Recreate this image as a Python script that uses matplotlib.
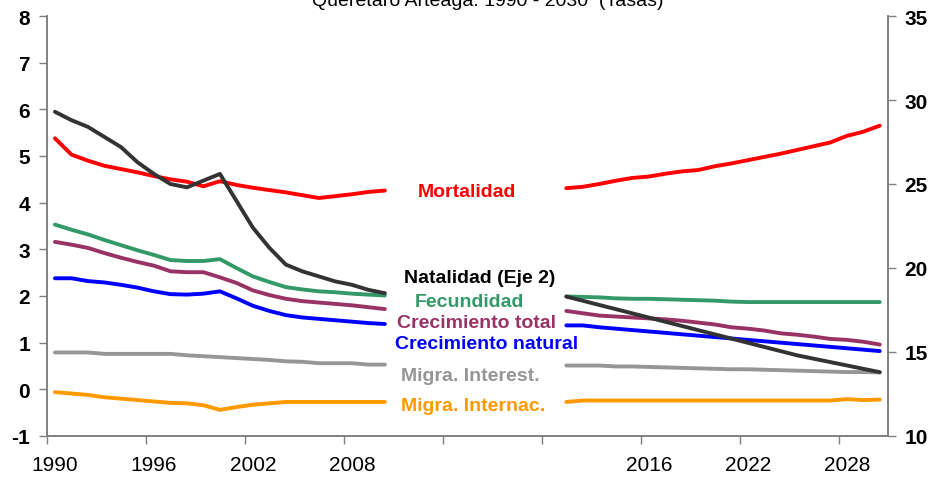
import numpy as np
import matplotlib
matplotlib.use("Agg")
import matplotlib.pyplot as plt

plt.rcParams['font.family'] = ['Liberation Sans', 'DejaVu Sans']

# ---------------- data ----------------
title = "Querétaro Arteaga: 1990 - 2030  (Tasas)"
hist_years = list(range(1990, 2011))
proj_years = list(range(2011, 2031))
n_blank = 10  # empty categories between the two periods (room for labels)

mort_hist = [5.38, 5.03, 4.90, 4.79, 4.72, 4.65, 4.57, 4.50, 4.45, 4.35, 4.46,
             4.38, 4.32, 4.27, 4.22, 4.16, 4.10, 4.14, 4.18, 4.23, 4.26]
mort_proj = [4.31, 4.34, 4.40, 4.47, 4.53, 4.56, 4.62, 4.67, 4.70, 4.78,
             4.84, 4.91, 4.98, 5.05, 5.13, 5.21, 5.29, 5.43, 5.52, 5.65]

nat_hist = [29.3, 28.8, 28.4, 27.8, 27.2, 26.3, 25.6, 25.0, 24.8, 25.2, 25.6,
            24.0, 22.4, 21.2, 20.2, 19.8, 19.5, 19.2, 19.0, 18.7, 18.5]
nat_proj = [18.3, 18.05, 17.8, 17.55, 17.3, 17.05, 16.8, 16.55, 16.3, 16.05,
            15.8, 15.55, 15.3, 15.05, 14.8, 14.6, 14.4, 14.2, 14.0, 13.8]

fec_hist = [3.53, 3.42, 3.32, 3.20, 3.09, 2.98, 2.88, 2.77, 2.75, 2.75, 2.79,
            2.60, 2.42, 2.30, 2.19, 2.14, 2.10, 2.08, 2.05, 2.03, 2.01]
fec_proj = [1.99, 1.98, 1.97, 1.95, 1.94, 1.94, 1.93, 1.92, 1.91, 1.90,
            1.88, 1.87, 1.87, 1.87, 1.87, 1.87, 1.87, 1.87, 1.87, 1.87]

ctot_hist = [3.16, 3.10, 3.03, 2.92, 2.82, 2.73, 2.65, 2.53, 2.51, 2.51, 2.40,
             2.28, 2.12, 2.02, 1.94, 1.89, 1.86, 1.83, 1.80, 1.76, 1.72]
ctot_proj = [1.68, 1.63, 1.58, 1.56, 1.54, 1.52, 1.50, 1.47, 1.43, 1.39,
             1.33, 1.30, 1.26, 1.20, 1.17, 1.13, 1.08, 1.06, 1.02, 0.96]

cnat_hist = [2.38, 2.38, 2.32, 2.29, 2.24, 2.18, 2.10, 2.04, 2.03, 2.05, 2.10,
             1.95, 1.79, 1.68, 1.59, 1.54, 1.51, 1.48, 1.45, 1.42, 1.40]
cnat_proj = [1.37, 1.37, 1.33, 1.30, 1.27, 1.24, 1.21, 1.18, 1.15, 1.12,
             1.09, 1.06, 1.03, 1.00, 0.97, 0.94, 0.91, 0.88, 0.85, 0.82]

mint_hist = [0.79, 0.79, 0.79, 0.76, 0.76, 0.76, 0.76, 0.76, 0.73, 0.71, 0.69,
             0.67, 0.65, 0.63, 0.60, 0.59, 0.56, 0.56, 0.56, 0.53, 0.53]
mint_proj = [0.51, 0.51, 0.51, 0.49, 0.49, 0.48, 0.47, 0.46, 0.45, 0.44,
             0.43, 0.43, 0.42, 0.41, 0.40, 0.39, 0.38, 0.37, 0.37, 0.36]

mext_hist = [-0.06, -0.09, -0.12, -0.17, -0.20, -0.23, -0.26, -0.29, -0.30, -0.34, -0.44,
             -0.38, -0.33, -0.30, -0.27, -0.27, -0.27, -0.27, -0.27, -0.27, -0.27]
mext_proj = [-0.27, -0.24, -0.24, -0.24, -0.24, -0.24, -0.24, -0.24, -0.24, -0.24,
             -0.24, -0.24, -0.24, -0.24, -0.24, -0.24, -0.24, -0.21, -0.23, -0.22]

left_ticks = list(range(-1, 9))
right_ticks = [10, 15, 20, 25, 30, 35]

# ---------------- build category axis ----------------
categories = [str(y) for y in hist_years] + [''] * n_blank + [str(y) for y in proj_years]
x = np.arange(len(categories))
blank = [np.nan] * n_blank


def series(h, p):
    return np.array(list(h) + blank + list(p), dtype=float)


fig = plt.figure(figsize=(9.32, 4.81), dpi=100)
ax = fig.add_axes([46.7 / 932, 1 - 437 / 481, (888 - 46.7) / 932, 420 / 481])
ax2 = ax.twinx()

lw = 2.8
ax.plot(x, series(mort_hist, mort_proj), color='#FF0000', lw=lw, solid_capstyle='round')
ax.plot(x, series(fec_hist, fec_proj), color='#339966', lw=lw, solid_capstyle='round')
ax.plot(x, series(ctot_hist, ctot_proj), color='#993366', lw=lw, solid_capstyle='round')
ax.plot(x, series(cnat_hist, cnat_proj), color='#0000FF', lw=lw, solid_capstyle='round')
ax.plot(x, series(mint_hist, mint_proj), color='#969696', lw=lw, solid_capstyle='round')
ax.plot(x, series(mext_hist, mext_proj), color='#FF9900', lw=lw, solid_capstyle='round')
ax2.plot(x, series(nat_hist, nat_proj), color='#333333', lw=lw, solid_capstyle='round')

ax.set_xlim(-0.5, len(categories) - 0.5)
ax.set_ylim(-1, 8)
ax2.set_ylim(10, 35)

# ticks between categories every 6, labels at category centres
lab_idx = np.arange(0, len(categories), 6)
ax.set_xticks(lab_idx - 0.5)
ax.set_xticklabels([])
ax.set_xticks(lab_idx, minor=True)
ax.set_xticklabels([categories[i] for i in lab_idx], minor=True, fontsize=15)
ax.tick_params(axis='x', which='minor', length=0, pad=14)
ax.tick_params(axis='x', which='major', length=6, width=1, color='#808080', direction='out')

ax.set_yticks(left_ticks)
ax.set_yticklabels([str(t) for t in left_ticks], fontsize=15, fontweight='bold')
ax2.set_yticks(right_ticks)
ax2.set_yticklabels([str(t) for t in right_ticks], fontsize=15, fontweight='bold')
ax.tick_params(axis='y', length=6, width=1, color='#808080', direction='out', pad=6)
ax2.tick_params(axis='y', length=6, width=1, color='#808080', direction='out', pad=6)

for a in (ax, ax2):
    a.spines['top'].set_visible(False)
    for s in ('left', 'right', 'bottom'):
        a.spines[s].set_color('#808080')
        a.spines[s].set_linewidth(1.2)

# series labels
labels = [
    ("Mortalidad", '#FF0000', 0.499, 0.582),
    ("Natalidad (Eje 2)", '#000000', 0.515, 0.378),
    ("Fecundidad", '#339966', 0.503, 0.321),
    ("Crecimiento total", '#993366', 0.511, 0.271),
    ("Crecimiento natural", '#0000FF', 0.523, 0.221),
    ("Migra. Interest.", '#969696', 0.503, 0.144),
    ("Migra. Internac.", '#FF9900', 0.507, 0.072),
]
for txt, col, fx, fy in labels:
    ax2.text(fx, fy, txt, transform=ax.transAxes, color=col, fontsize=14,
             fontweight='bold', ha='center', va='center')

fig.text(488 / 932, 1 - 6 / 481, title, ha='center', va='baseline', fontsize=14)

fig.savefig('out.png', dpi=100)
